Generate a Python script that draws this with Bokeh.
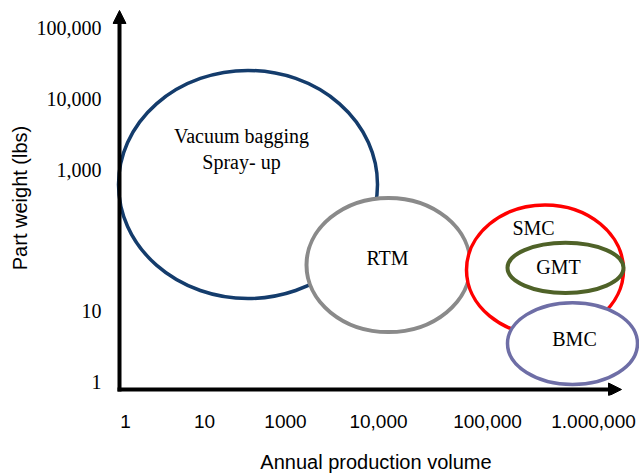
from bokeh.plotting import figure
from bokeh.models import Range1d, FixedTicker, Arrow, NormalHead, ColumnDataSource
from bokeh.core.properties import value
from bokeh.embed import file_html
from bokeh.resources import INLINE

# ---- data (schematic: x in volume-slot units, y in log10(lbs)) ----
processes = ["Vacuum bagging\nSpray- up", "RTM", "SMC", "GMT", "BMC"]
vol_center = [1.225, 2.63, 4.195, 4.40, 4.47]
vol_span = [2.59, 1.64, 1.57, 1.16, 1.30]
wt_center_log = [2.79, 1.65, 1.58, 1.61, 0.537]
wt_span_log = [3.23, 1.90, 1.84, 0.71, 1.16]
edge_colors = ["#143c6c", "#8a8a8a", "#ff0000", "#4f6228", "#6e6ea6"]
edge_widths = [3.5, 4, 3.5, 4, 3.5]
label_x = [1.16, 2.62, 4.08, 4.33, 4.49]
label_y = [3.29, 1.75, 2.175, 1.624, 0.607]
label_text = ["Vacuum bagging\nSpray- up", "RTM", "SMC", "GMT", "BMC"]

x_tick_pos = [0, 0.79, 1.60, 2.53, 3.62, 4.68]
x_tick_labels = ["1", "10", "1000", "10,000", "100,000", "1.000,000"]
y_tick_pos = [0, 1, 3, 4, 5]
y_tick_labels = ["1", "10", "1,000", "10,000", "100,000"]

p = figure(width=639, height=475, output_backend="svg", toolbar_location=None,
           x_range=Range1d(-0.13, 5.14), y_range=Range1d(-0.198, 5.395),
           min_border_left=112, min_border_right=0, min_border_top=0,
           min_border_bottom=79)
p.outline_line_color = None
p.xgrid.visible = False
p.ygrid.visible = False
p.background_fill_color = "white"
p.border_fill_color = "white"

src = ColumnDataSource(dict(x=vol_center, y=wt_center_log, w=vol_span, h=wt_span_log,
                            c=edge_colors, lw=edge_widths))
p.ellipse(x="x", y="y", width="w", height="h", source=src, fill_color="white",
          line_color="c", line_width="lw")

tsrc = ColumnDataSource(dict(x=label_x, y=label_y, t=label_text))
p.text(x="x", y="y", text="t", source=tsrc, text_align="center", text_baseline="middle",
       text_font=value("Liberation Serif"), text_font_size="20px", text_color="black",
       text_line_height=1.2)

# axes
for ax in (p.xaxis[0], p.yaxis[0]):
    ax.axis_line_color = None
    ax.major_tick_line_color = None
    ax.minor_tick_line_color = None
    ax.major_tick_out = 0
    ax.major_tick_in = 0
    ax.axis_label_text_font_style = "normal"
    ax.axis_label_text_color = "black"
    ax.major_label_text_color = "black"

p.xaxis.ticker = FixedTicker(ticks=x_tick_pos)
p.xaxis.major_label_overrides = {t: l for t, l in zip(x_tick_pos, x_tick_labels)}
p.xaxis.major_label_text_font = "Liberation Sans"
p.xaxis.major_label_text_font_size = "19px"
p.xaxis.major_label_standoff = 19
p.xaxis.axis_label = "Annual production volume"
p.xaxis.axis_label_text_font = "Liberation Sans"
p.xaxis.axis_label_text_font_size = "20px"
p.xaxis.axis_label_standoff = 20

p.yaxis.ticker = FixedTicker(ticks=y_tick_pos)
p.yaxis.major_label_overrides = {t: l for t, l in zip(y_tick_pos, y_tick_labels)}
p.yaxis.major_label_text_font = "Liberation Serif"
p.yaxis.major_label_text_font_size = "20px"
p.yaxis.major_label_standoff = 11
p.yaxis.axis_label = "Part weight (lbs)"
p.yaxis.axis_label_text_font = "Liberation Sans"
p.yaxis.axis_label_text_font_size = "20px"
p.yaxis.axis_label_standoff = 3

# arrowed axis lines
p.add_layout(Arrow(end=NormalHead(size=13, fill_color="black", line_color="black"),
                   x_start=-0.06, y_start=-0.14, x_end=-0.06, y_end=5.254,
                   line_width=4, line_color="black"))
p.add_layout(Arrow(end=NormalHead(size=13, fill_color="black", line_color="black"),
                   x_start=-0.08, y_start=-0.113, x_end=4.96, y_end=-0.113,
                   line_width=4, line_color="black"))

open("out.html", "w").write(file_html(p, INLINE))
